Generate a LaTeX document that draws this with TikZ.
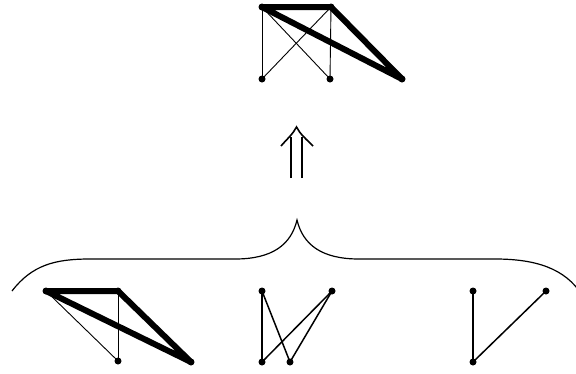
\documentclass[tikz,border=0pt]{standalone}
\begin{document}
\begin{tikzpicture}[x=1pt,y=-1pt,
  dot/.style={circle,fill=black,inner sep=0pt,minimum size=7pt},
  heavy/.style={line width=6pt,line cap=round,line join=round},
  thin/.style={line width=0.9pt},
  mid/.style={line width=1.5pt},
  brace/.style={line width=1.2pt}]
\useasboundingbox (0,0) rectangle (576,373);
% top graph
\coordinate (a1) at (262,7);
\coordinate (a2) at (331,7);
\coordinate (a3) at (262,79);
\coordinate (a4) at (330,79);
\coordinate (a5) at (402,79);
\draw[thin] (a1) -- (a3);
\draw[thin] (a1) -- (a4);
\draw[thin] (a2) -- (a3);
\draw[thin] (a2) -- (a4);
\draw[heavy] (a1) -- (a2) -- (a5) -- cycle;
\foreach \n in {a1,a2,a3,a4,a5} \node[dot] (d\n) at (\n) {};
% arrow
\coordinate (u1) at (291,178);
\coordinate (u2) at (302,178);
\coordinate (u3) at (291,137);
\coordinate (u4) at (302,137);
\coordinate (ut) at (296.5,127);
\coordinate (ul) at (281,146);
\coordinate (ur) at (313,146);
\draw[line width=1.8pt] (u1) -- (u3);
\draw[line width=1.8pt] (u2) -- (u4);
\draw[line width=1.6pt,line join=miter] (ul) .. controls (287,139) and (293,134) .. (ut) .. controls (300,134) and (306,139) .. (ur);
% brace
\coordinate (b1) at (12,291);
\coordinate (b2) at (90,259);
\coordinate (b3) at (235,259);
\coordinate (bp) at (297,220);
\coordinate (b4) at (359,259);
\coordinate (b5) at (495,259);
\coordinate (b6) at (582,295);
\draw[brace] (b1) .. controls (32,265) and (55,259) .. (b2) -- (b3)
  .. controls (272,259) and (291,245) .. (bp)
  .. controls (303,245) and (322,259) .. (b4) -- (b5)
  .. controls (535,259) and (565,268) .. (b6);
% bottom left graph
\coordinate (c1) at (46,291);
\coordinate (c2) at (118,291);
\coordinate (c3) at (118,361);
\coordinate (c4) at (191,362);
\draw[thin] (c1) -- (c3);
\draw[thin] (c2) -- (c3);
\draw[heavy] (c1) -- (c2) -- (c4) -- cycle;
\foreach \n in {c1,c2,c3,c4} \node[dot] (d\n) at (\n) {};
% middle graph
\coordinate (m1) at (262,291);
\coordinate (m2) at (332,291);
\coordinate (m3) at (262,362);
\coordinate (m4) at (290,362);
\draw[mid] (m1) -- (m3);
\draw[mid] (m1) -- (m4);
\draw[mid] (m2) -- (m3);
\draw[mid] (m2) -- (m4);
\foreach \n in {m1,m2,m3,m4} \node[dot] (d\n) at (\n) {};
% right graph
\coordinate (r1) at (473,291);
\coordinate (r2) at (546,291);
\coordinate (r3) at (473,362);
\draw[mid] (r1) -- (r3);
\draw[mid] (r2) -- (r3);
\foreach \n in {r1,r2,r3} \node[dot] (d\n) at (\n) {};
\end{tikzpicture}
\end{document}
